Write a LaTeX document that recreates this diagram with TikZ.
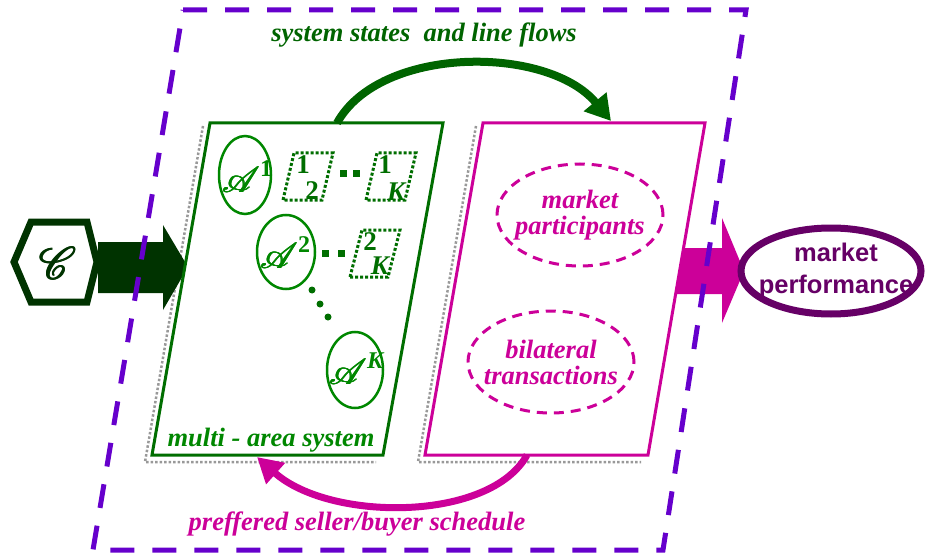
\documentclass[tikz,border=0pt]{standalone}
\usepackage{fontspec}
\setmainfont{Liberation Serif}
\setsansfont{Liberation Sans}
\usepackage{mathrsfs}
\usetikzlibrary{arrows.meta,shapes.geometric}
\definecolor{boxgreen}{RGB}{0,110,0}
\definecolor{areagreen}{RGB}{0,135,0}
\definecolor{flowgreen}{RGB}{0,100,0}
\definecolor{inputgreen}{RGB}{0,51,0}
\definecolor{mktpink}{RGB}{204,0,153}
\definecolor{rimpurple}{RGB}{102,0,204}
\definecolor{perfpurple}{RGB}{102,0,102}
\newcommand{\thickglyph}[1]{\makebox[0pt]{#1}\makebox[0pt]{\hspace{1.6pt}#1}%
  \makebox[0pt]{\raisebox{1pt}{#1}}\makebox[0pt]{\hspace{1.6pt}\raisebox{1pt}{#1}}}
\newcommand{\heavyglyph}[1]{\rlap{#1}\rlap{\hspace{0.9pt}#1}\rlap{\raisebox{0.7pt}{#1}}%
  \rlap{\hspace{0.9pt}\raisebox{0.7pt}{#1}}\hphantom{#1}\hspace{0.9pt}}
\newcommand{\areasym}[1]{\heavyglyph{\scalebox{1.45}{$\mathscr{A}$}}\raisebox{16pt}{\fontsize{24}{24}\selectfont\bfseries #1}}
\tikzset{
  lab/.style={font=\fontsize{26.5}{28}\selectfont\bfseries\itshape},
  area/.style={draw=areagreen,line width=2.5pt,ellipse,inner sep=0pt,
    minimum width=52pt,minimum height=78pt},
  arealab/.style={text=areagreen,inner sep=0pt,font=\fontsize{24.88}{25}\selectfont},
  part/.style={draw=mktpink,line width=3pt,dash pattern=on 10pt off 7pt,
    ellipse,inner sep=0pt,minimum width=166pt,minimum height=102pt},
  partlab/.style={align=center,text=mktpink,inner sep=0pt,
    font=\fontsize{26.5}{26}\selectfont\bfseries\itshape},
  subbox/.style={draw=boxgreen,line width=3pt,dotted},
  subnum/.style={text=boxgreen,inner sep=0pt,font=\fontsize{27}{27}\selectfont\bfseries},
  shade/.style={draw=gray!80,line width=2.5pt,dotted},
}
\begin{document}
\begin{tikzpicture}[x=1pt,y=-1pt]
  \useasboundingbox (0,0) rectangle (929,559);
  % corners of the two blocks
  \coordinate (g1) at (210,123);
  \coordinate (g2) at (443,123);
  \coordinate (g3) at (383,455);
  \coordinate (g4) at (152,455);
  \coordinate (m1) at (483,123);
  \coordinate (m2) at (705,123);
  \coordinate (m3) at (648,455);
  \coordinate (m4) at (425,455);
  % shadows
  \draw[shade] ([xshift=-7pt,yshift=-3pt]g1) -- ([xshift=-7pt,yshift=-7pt]g4) -- ([xshift=-7pt,yshift=-7pt]g3);
  \draw[shade] ([xshift=-7pt,yshift=-3pt]m1) -- ([xshift=-7pt,yshift=-7pt]m4) -- ([xshift=-7pt,yshift=-7pt]m3);
  % fat arrows
  \fill[inputgreen] (98,242) -- (163,242) -- (163,225) -- (188,267)
    -- (163,310) -- (163,293) -- (98,293) -- cycle;
  \fill[mktpink] (670,248) -- (722,248) -- (722,218) -- (744,271)
    -- (722,323) -- (722,294) -- (670,294) -- cycle;
  % input hexagon
  \draw[inputgreen,line width=7pt,fill=white,line join=miter]
    (14,262) -- (31,222) -- (87,222) -- (97,262) -- (87,302) -- (31,302) -- cycle;
  \node[text=inputgreen,inner sep=0pt,font=\fontsize{24.88}{25}\selectfont] (cc) at (57,263)
    {\thickglyph{\scalebox{1.8}{$\mathscr{C}$}}};
  % blocks
  \draw[boxgreen,line width=3pt,fill=white] (g1) -- (g2) -- (g3) -- (g4) -- cycle;
  \draw[mktpink,line width=3pt,fill=white] (m1) -- (m2) -- (m3) -- (m4) -- cycle;
  % areas
  \node[area] (a1) at (245,175) {};
  \node[arealab] at (247,177) {\areasym{1}};
  \node[area,minimum width=58pt,minimum height=74pt] (a2) at (286,252) {};
  \node[arealab] at (285,253) {\areasym{2}};
  \node[area,minimum width=56pt,minimum height=76pt] (ak) at (355,370) {};
  \node[arealab] at (356,369) {\areasym{\itshape K}};
  \draw[subbox] (283,200) -- (294,153) -- (333,153) -- (322,200) -- cycle;
  \node[subnum] (b12a) at (303,165) {1};
  \node[subnum] (b12b) at (312,191) {2};
  \draw[subbox] (366,200) -- (377,153) -- (416,153) -- (405,200) -- cycle;
  \node[subnum] (b1ka) at (385,165) {1};
  \node[subnum] (b1kb) at (396,192) {\itshape K};
  \draw[subbox] (350,277) -- (362,230) -- (400,230) -- (388,277) -- cycle;
  \node[subnum] (b2ka) at (370,242) {2};
  \node[subnum] (b2kb) at (380,266) {\itshape K};
  \fill[boxgreen] (340,170) rectangle (347,177);
  \fill[boxgreen] (353,170) rectangle (360,177);
  \fill[boxgreen] (322,250) rectangle (329,257);
  \fill[boxgreen] (338,250) rectangle (345,257);
  \fill[boxgreen] (312,290) circle (3.5pt);
  \fill[boxgreen] (320,304) circle (3.5pt);
  \fill[boxgreen] (328,317) circle (3.5pt);
  \node[lab,text=areagreen] (mas) at (271,440) {multi - area system};
  % market side
  \node[part] (mp) at (580,215) {};
  \node[partlab] at (mp) {market\\participants};
  \node[part] (bt) at (551,362) {};
  \node[partlab] at (bt) {bilateral\\transactions};
  \node[draw=perfpurple,line width=7pt,fill=white,ellipse,inner sep=0pt,
    minimum width=180pt,minimum height=86pt] (perf) at (831,271) {};
  \node[align=center,text=perfpurple,inner sep=0pt,
    font=\fontsize{25.5}{32}\selectfont\sffamily\bfseries] at (836,271) {market\\performance};
  % loops between the blocks
  \coordinate (gtop) at (337,123);
  \coordinate (mtop) at (611,121);
  \coordinate (mbot) at (527,455);
  \coordinate (gbot) at (257,457);
  \draw[flowgreen,line width=8pt,-{Triangle[length=25pt,width=28pt]}]
    (gtop) .. controls (380,45) and (548,45) .. (mtop);
  \draw[mktpink,line width=7pt,-{Triangle[length=25pt,width=27pt]}]
    (mbot) .. controls (490,522) and (330,522) .. (gbot);
  \node[lab,text=flowgreen] (ssf) at (424,35) {system states\ \ and line flows};
  \node[lab,text=mktpink] (sch) at (357,524) {preffered seller/buyer schedule};
  % market boundary
  \draw[rimpurple,line width=5pt,dash pattern=on 24pt off 18pt]
    (183,10) -- (746,10) -- (663,550) -- (93,550) -- cycle;
\end{tikzpicture}
\end{document}
